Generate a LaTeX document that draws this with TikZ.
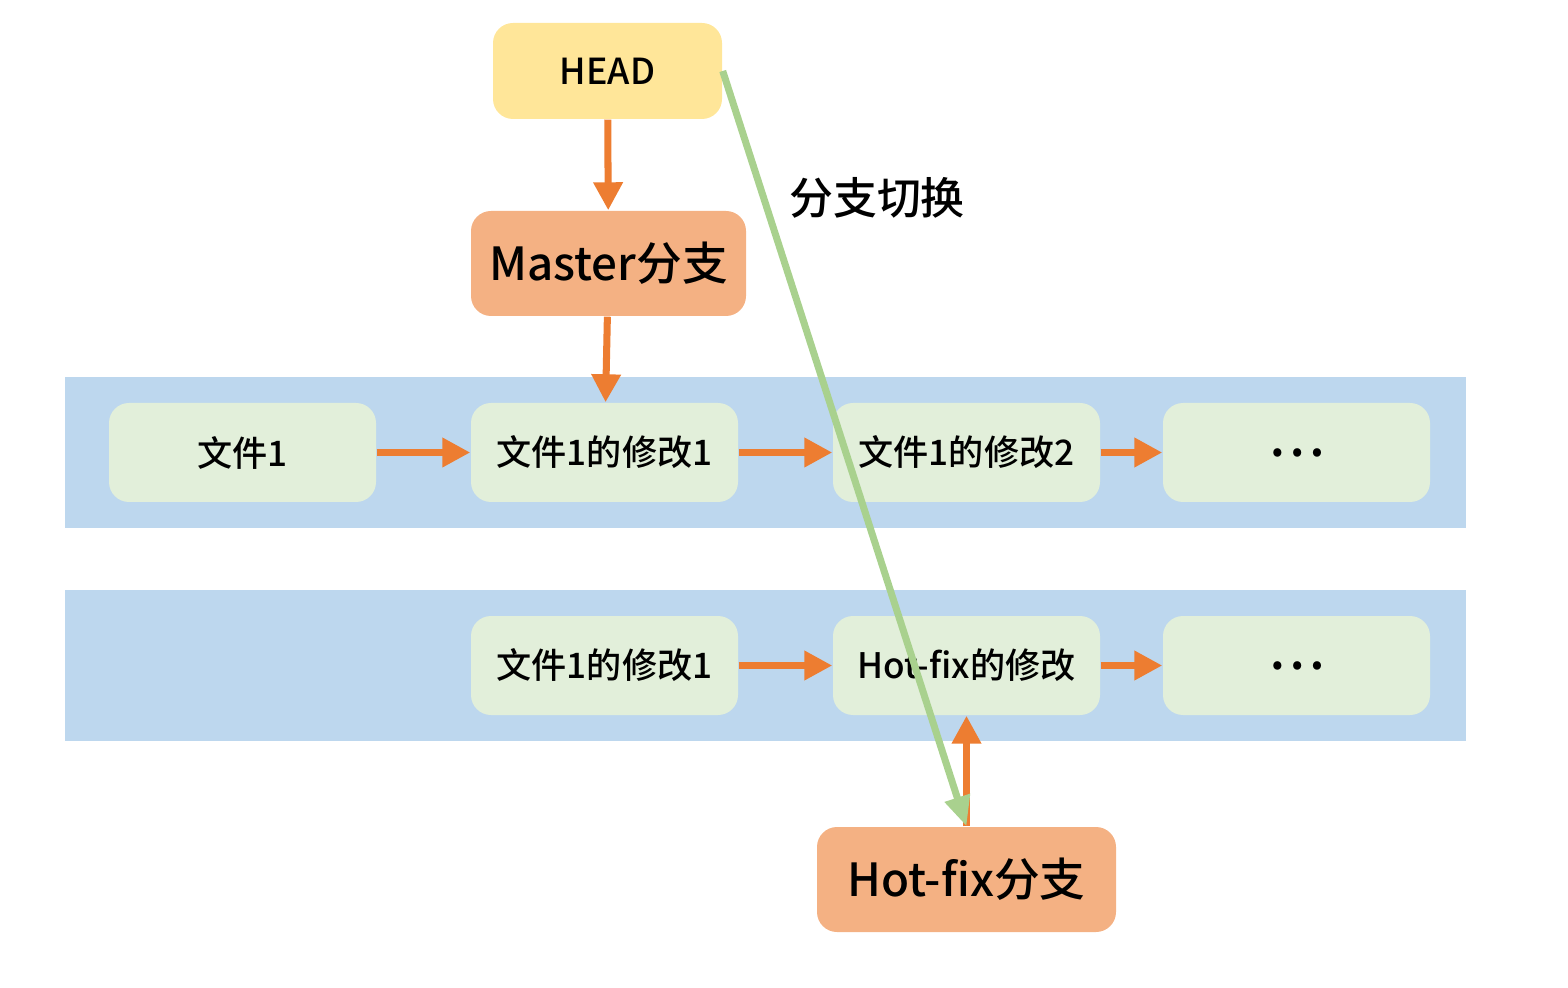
\documentclass[tikz,border=0pt]{standalone}
\usepackage{fontspec}
\setmainfont{Noto Sans CJK SC}[BoldFont={Noto Sans CJK SC Medium}]
\usetikzlibrary{arrows.meta}
\definecolor{headfill}{HTML}{FFE699}
\definecolor{branchfill}{HTML}{F4B183}
\definecolor{bandfill}{HTML}{BDD7EE}
\definecolor{commitfill}{HTML}{E2EFDA}
\definecolor{arroworange}{HTML}{ED7D31}
\definecolor{switchgreen}{HTML}{A9D18E}
\begin{document}
\begin{tikzpicture}[
    commit/.style={fill=commitfill, rounded corners=0.2cm, minimum width=2.67cm, minimum height=0.99cm, font=\fontsize{10}{12}\selectfont\bfseries},
    dots/.style={commit, font=\fontsize{15}{15}\selectfont\bfseries},
    branch/.style={fill=branchfill, rounded corners=0.2cm, minimum height=1.05cm, font=\fontsize{13}{15}\selectfont\bfseries},
    link/.style={arroworange, line width=2pt, -{Triangle[length=0.28cm,width=0.28cm]}},
    switch/.style={switchgreen, line width=2pt, -{Triangle[length=0.3cm,width=0.25cm]}}
    ]
    \useasboundingbox (0,0) rectangle (15.68,9.87);

    \fill[bandfill] (0.65,4.59) rectangle (14.66,6.10);
    \fill[bandfill] (0.65,2.46) rectangle (14.66,3.97);

    \node[fill=headfill, rounded corners=0.2cm, minimum width=2.29cm, minimum height=0.96cm, font=\fontsize{10.2}{12}\selectfont\bfseries] (head) at (6.075,9.16) {HEAD};
    \node[branch, minimum width=2.75cm] (master) at (6.085,7.235) {Master分支};
    \node[branch, minimum width=2.99cm] (hotfix) at (9.665,1.075) {Hot-fix分支};

    \node[commit] (c0) at (2.425,5.345) {文件1};
    \node[commit] (c1) at (6.045,5.345) {文件1的修改1};
    \node[commit] (c2) at (9.665,5.345) {文件1的修改2};
    \node[dots] (c3) at (12.965,5.345) {⋯};

    \node[commit] (h1) at (6.045,3.215) {文件1的修改1};
    \node[commit] (h2) at (9.665,3.215) {Hot-fix的修改};
    \node[dots] (h3) at (12.965,3.215) {⋯};

    \draw[link] (head) -- (master);
    \draw[link] (master) -- (c1);
    \draw[link] (c0) -- (c1);
    \draw[link] (c1) -- (c2);
    \draw[link] (c2) -- (c3);
    \draw[link] (h1) -- (h2);
    \draw[link] (h2) -- (h3);
    \draw[link] (hotfix) -- (h2);

    \draw[switch] (head.east) -- (hotfix.north);
    \node[font=\fontsize{12.5}{15}\selectfont\bfseries] (swlabel) at (8.77,7.89) {分支切换};
\end{tikzpicture}
\end{document}
